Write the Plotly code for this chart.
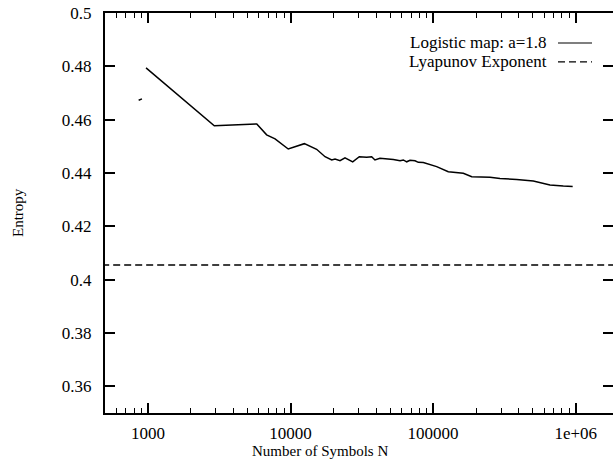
import plotly.graph_objects as go

# Data
N_logistic = [970, 2920, 5800, 6800, 7790, 9640, 12500, 15240, 17460, 19450, 20520,
              22230, 24100, 26120, 27300, 30360, 34200, 37070, 39090, 42360, 47270,
              52620, 58610, 61790, 65270, 68870, 74690, 78740, 85370, 105900, 127700,
              162800, 186600, 250700, 294500, 385500, 504100, 660000, 818000, 952000]
H_logistic = [0.4794, 0.4577, 0.4584, 0.4543, 0.4528, 0.4490, 0.4510, 0.4489, 0.4461,
              0.4449, 0.4452, 0.4446, 0.4457, 0.4449, 0.4442, 0.4461, 0.4459, 0.4461,
              0.4449, 0.4455, 0.4454, 0.4451, 0.4446, 0.4449, 0.4442, 0.4448, 0.4446,
              0.4440, 0.4439, 0.4424, 0.4405, 0.4399, 0.4386, 0.4384, 0.4379, 0.4376,
              0.4370, 0.4355, 0.4351, 0.4349]
N_stray = [861, 908]
H_stray = [0.4673, 0.4678]
N_lyap = [400, 3e6]
H_lyap = [0.4055, 0.4055]

x_tickvals = [1000, 10000, 100000, 1000000]
x_ticktext = ["1000", "10000", "100000", "1e+06"]
x_minor = [600, 700, 800, 900] + [m * 1000 for m in range(2, 10)] + \
          [m * 10000 for m in range(2, 10)] + [m * 100000 for m in range(2, 10)] + [2000000]
y_tickvals = [0.36, 0.38, 0.40, 0.42, 0.44, 0.46, 0.48, 0.50]
y_ticktext = ["0.36", "0.38", "0.4", "0.42", "0.44", "0.46", "0.48", "0.5"]

legend_names = ["Logistic map: a=1.8", "Lyapunov Exponent"]

FONT = "Liberation Serif"

fig = go.Figure()
fig.add_trace(go.Scatter(x=N_logistic, y=H_logistic, mode="lines",
                         line=dict(color="black", width=1.5), showlegend=False))
fig.add_trace(go.Scatter(x=N_stray, y=H_stray, mode="lines",
                         line=dict(color="black", width=1.5), showlegend=False))
fig.add_trace(go.Scatter(x=N_lyap, y=H_lyap, mode="lines",
                         line=dict(color="black", width=1.3, dash="7px,4px"),
                         showlegend=False))

W, H = 613, 464
L, R, T, B = 105, 0, 13, 51
pw, ph = W - L - R, H - T - B


def px(xs):
    return (xs - L) / pw


def py(ys):
    return (H - B - ys) / ph


# legend (gnuplot style: text then sample)
for i, (name, dash) in enumerate(zip(legend_names, ["solid", "7px,4px"])):
    ypix = 43 + i * 18.8
    fig.add_annotation(x=px(549), y=py(ypix), xref="paper", yref="paper",
                       text=name, showarrow=False, xanchor="right", yanchor="middle",
                       font=dict(family=FONT, size=17, color="black"))
    fig.add_shape(type="line", xref="paper", yref="paper",
                  x0=px(558), x1=px(592), y0=py(ypix), y1=py(ypix),
                  line=dict(color="black", width=1.2, dash=dash))

# axis titles
fig.add_annotation(x=px(18), y=0.5, xref="paper", yref="paper", text="Entropy",
                   textangle=-90, showarrow=False, xanchor="center", yanchor="middle",
                   font=dict(family=FONT, size=15, color="black"))
fig.add_annotation(x=px(320), y=py(451), xref="paper", yref="paper",
                   text="Number of Symbols N", showarrow=False,
                   xanchor="center", yanchor="middle",
                   font=dict(family=FONT, size=15, color="black"))

fig.update_xaxes(type="log", range=[2.699, 2.699 + pw / 142.6], automargin=False,
                 tickvals=x_tickvals, ticktext=x_ticktext,
                 ticks="inside", ticklen=10, tickwidth=1.5, tickcolor="black",
                 minor=dict(tickvals=x_minor, ticks="inside", ticklen=5,
                            tickwidth=1.2, tickcolor="black", showgrid=False),
                 showline=True, linecolor="black", linewidth=2, mirror="allticks",
                 showgrid=False, zeroline=False, ticklabelstandoff=4,
                 ticklabeloverflow="allow",
                 tickfont=dict(family=FONT, size=17, color="black"))
fig.update_yaxes(range=[0.35, 0.5], tickvals=y_tickvals, ticktext=y_ticktext,
                 automargin=False, ticklabeloverflow="allow",
                 ticks="inside", ticklen=10, tickwidth=1.5, tickcolor="black",
                 showline=True, linecolor="black", linewidth=2, mirror="allticks",
                 showgrid=False, zeroline=False, ticklabelstandoff=8,
                 tickfont=dict(family=FONT, size=17, color="black"))

fig.update_layout(width=W, height=H, margin=dict(l=L, r=R, t=T, b=B),
                  plot_bgcolor="white", paper_bgcolor="white", showlegend=False)

fig.write_html("out.html", config={"displayModeBar": False},
               post_script="document.body.style.margin='0';document.body.style.overflow='hidden';")
